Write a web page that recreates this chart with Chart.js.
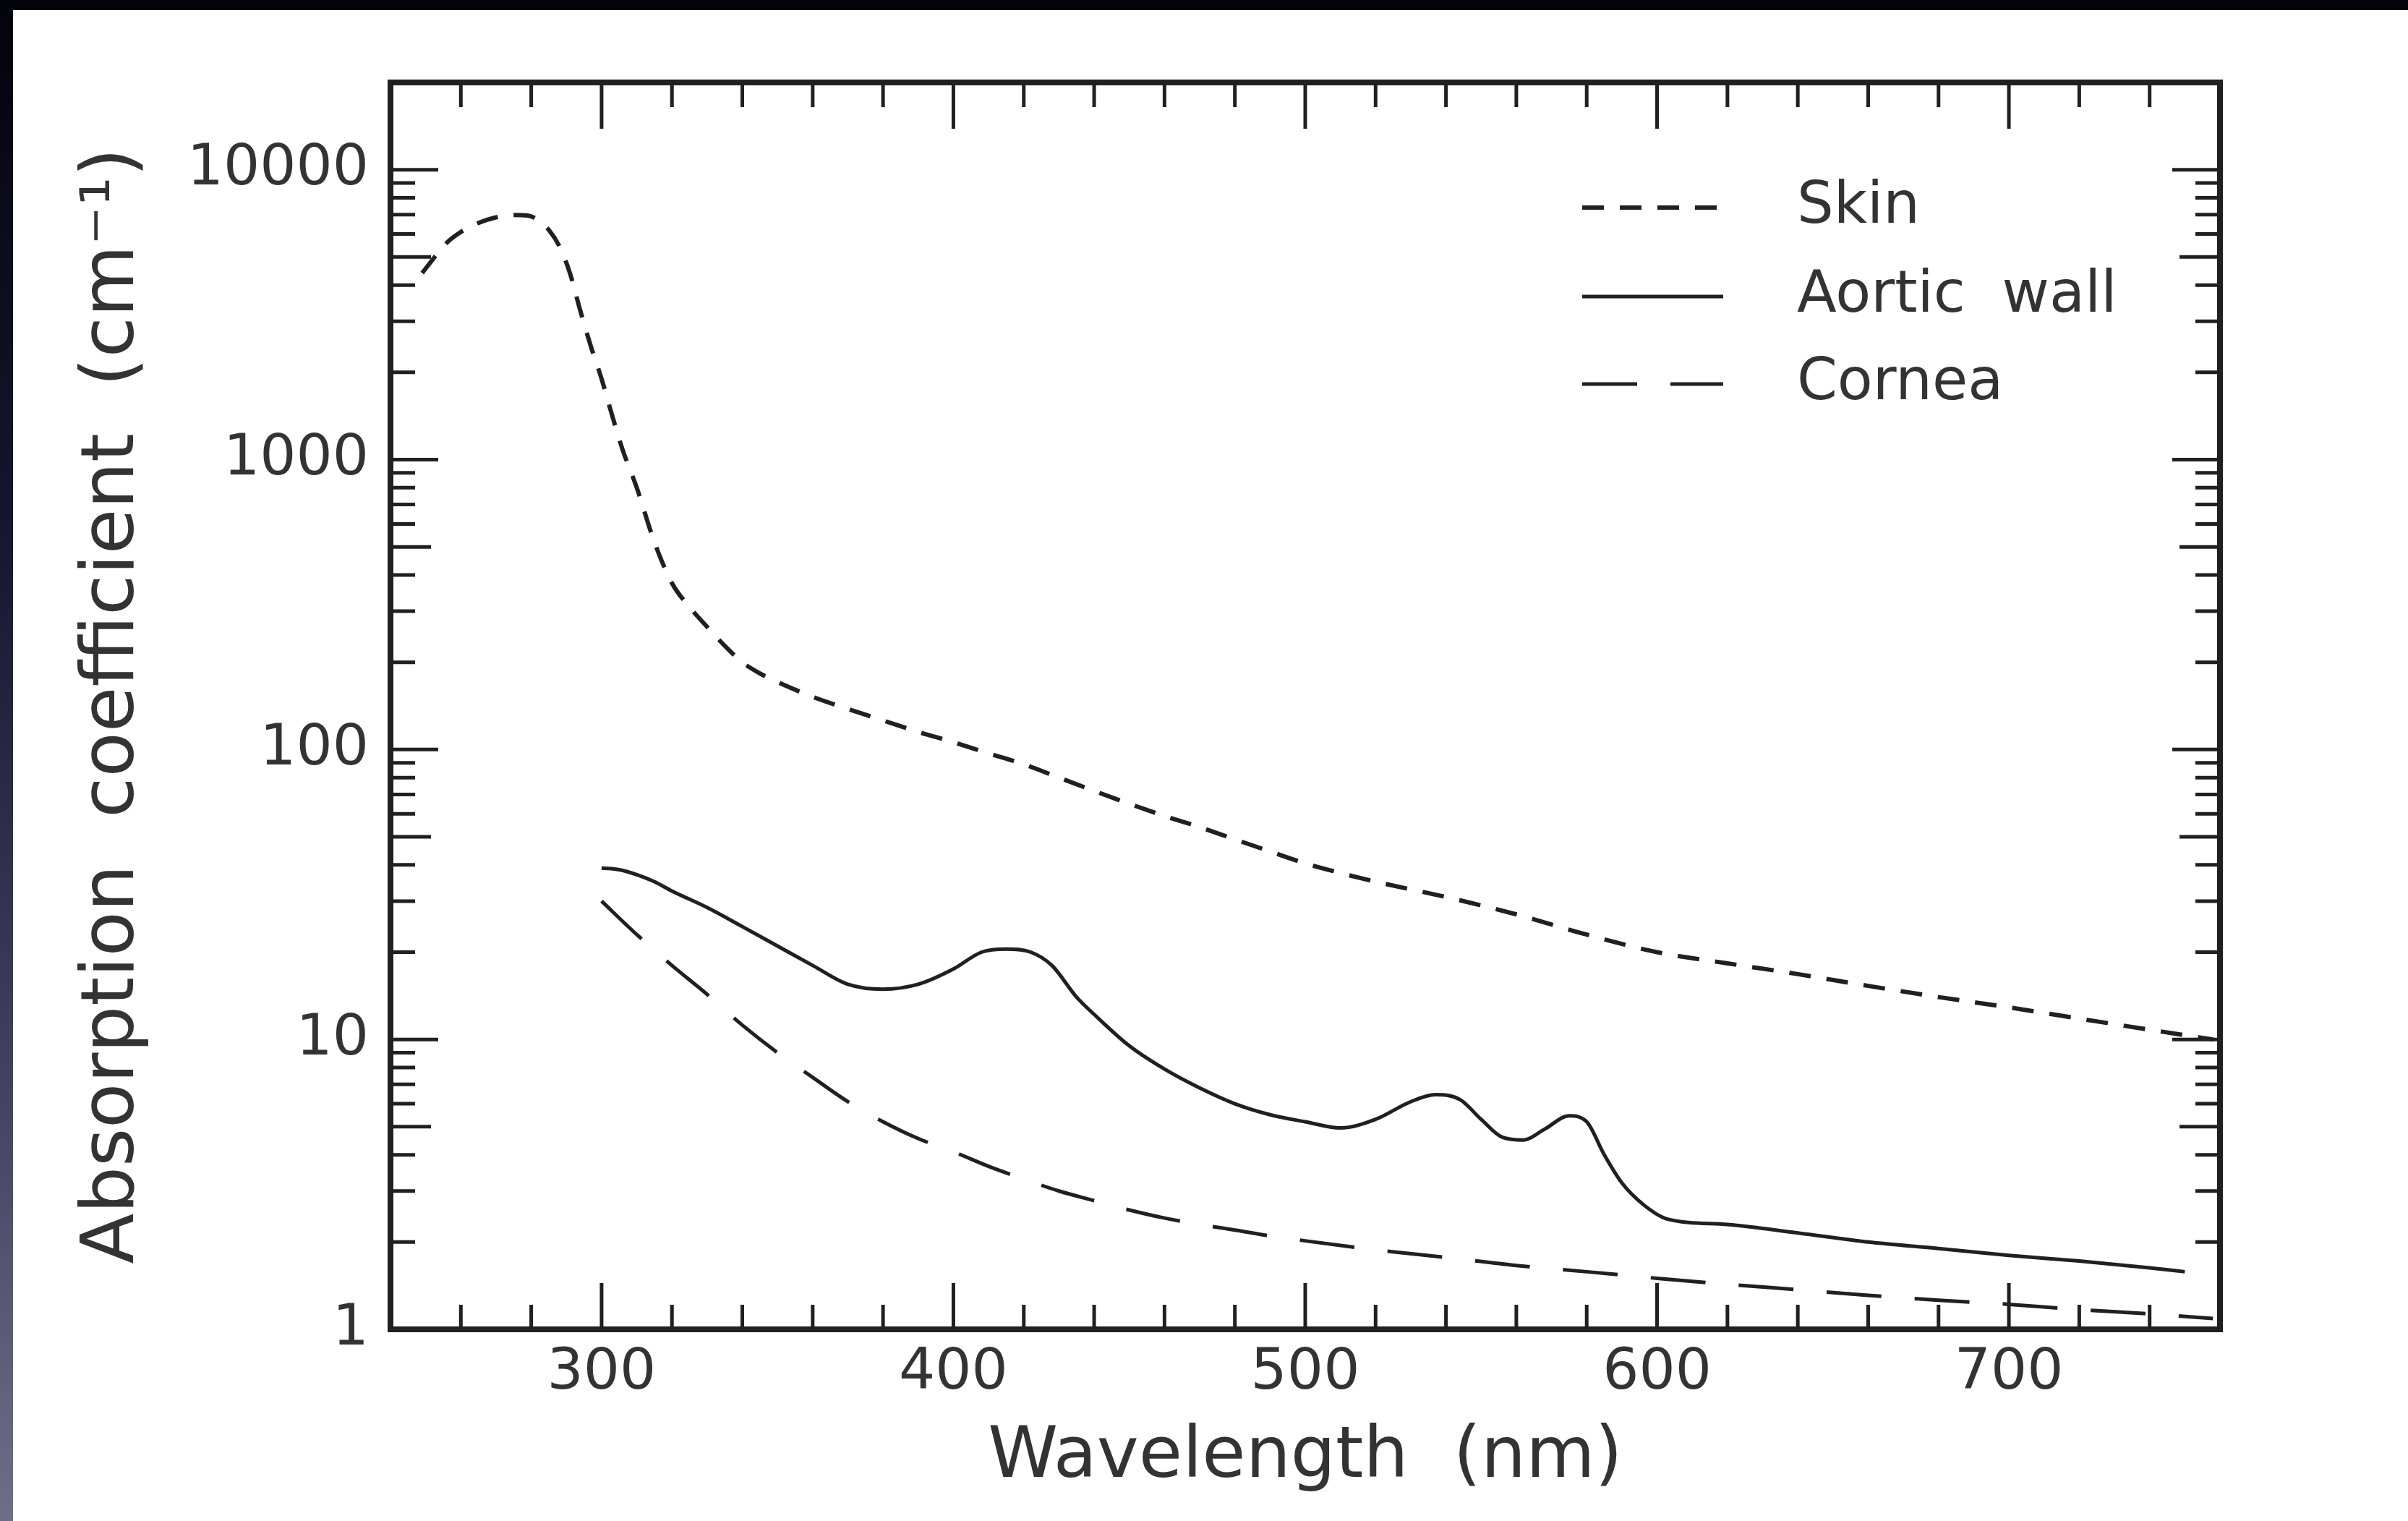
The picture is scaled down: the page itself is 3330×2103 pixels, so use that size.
<!DOCTYPE html>
<html>
<head>
<meta charset="utf-8">
<script src="https://cdn.jsdelivr.net/npm/chart.js@4.4.1/dist/chart.umd.min.js"></script>
<style>
  html, body { margin: 0; padding: 0; background: #fff; }
  #page { position: relative; width: 3330px; height: 2103px; background: #fff; overflow: hidden; }
  #topband { position: absolute; left: 0; top: 0; width: 3330px; height: 14px; background: #03030a; }
  #leftband { position: absolute; left: 0; top: 0; width: 18px; height: 2103px;
    background: linear-gradient(to bottom, #03030c 0%, #161630 35%, #40405f 70%, #6e6e88 100%); }
  #plot { position: absolute; left: 18px; top: 14px; }
</style>
</head>
<body>
<div id="page">
  <div id="topband"></div>
  <div id="leftband"></div>
  <canvas id="plot" width="3312" height="2089"></canvas>
</div>
<script>
// absorption coefficient (cm^-1) vs wavelength (nm)
var skinNm  = [249, 252, 256, 260, 265, 270, 275, 279, 282, 285, 288, 291, 294, 297, 300, 303, 306, 310, 315, 320, 325, 330, 335, 340, 345, 350,
               360, 370, 380, 390, 400, 410, 420, 430, 440, 450, 460, 470, 480, 490, 500, 510, 520, 540, 560, 580, 600, 620, 640, 660, 680, 700, 720, 740, 758];
var skinAbs = [4400, 4900, 5600, 6100, 6550, 6850, 6980, 6950, 6700, 6200, 5450, 4400, 3250, 2450, 1900, 1420, 1080, 800, 520, 375, 310, 265, 228, 200, 183, 171,
               152, 138, 126, 115, 106, 97, 89, 80, 72, 65, 59, 54, 49, 44.5, 40.5, 37.5, 35, 31, 27, 23, 20, 18.3, 16.8, 15.3, 14, 12.9, 11.8, 10.8, 10];

var aorticNm  = [300, 305, 310, 315, 320, 330, 340, 350, 360, 370, 380, 390, 400, 408, 415, 422, 428, 435, 440, 450, 460, 470, 480, 490, 500, 510,
                 520, 530, 537, 544, 550, 556, 562, 568, 575, 580, 585, 590, 596, 603, 620, 640, 660, 680, 700, 720, 740, 750];
var aorticAbs = [39, 38.5, 37, 35, 32.5, 28.5, 24.5, 21, 18, 15.5, 14.9, 15.5, 17.5, 20, 20.5, 20, 18, 14, 12.2, 9.5, 7.9, 6.8, 6.0, 5.5, 5.2, 4.95,
                 5.3, 6.1, 6.45, 6.2, 5.3, 4.6, 4.5, 4.9, 5.45, 5.2, 4.0, 3.2, 2.7, 2.4, 2.3, 2.15, 2.0, 1.9, 1.8, 1.72, 1.63, 1.58];

var corneaNm  = [300, 310, 320, 330, 340, 350, 360, 370, 380, 390, 400, 410, 420, 430, 440, 450, 460, 470, 480, 490, 500,
                 520, 540, 560, 580, 600, 620, 640, 660, 680, 700, 720, 740, 758];
var corneaAbs = [30, 23, 18, 14.3, 11.2, 9, 7.4, 6.1, 5.2, 4.55, 4.1, 3.65, 3.3, 3.0, 2.78, 2.58, 2.42, 2.3, 2.2, 2.1, 2.02,
                 1.88, 1.77, 1.66, 1.58, 1.5, 1.43, 1.37, 1.31, 1.26, 1.22, 1.17, 1.13, 1.09];

var seriesNames = ['Skin', 'Aortic  wall', 'Cornea'];
var xTickValues = [300, 400, 500, 600, 700];
var yTickValues = [1, 10, 100, 1000, 10000];

var ink = '#202020';
var textInk = '#333';
var fontFamily = "'DejaVu Sans', 'Open Sans', sans-serif";

function pairs(xs, ys) {
  return xs.map(function(x, i) { return { x: x, y: ys[i] }; });
}

function stroke(ctx, x1, y1, x2, y2) {
  ctx.beginPath();
  ctx.moveTo(x1, y1);
  ctx.lineTo(x2, y2);
  ctx.stroke();
}

// box frame plus inward ticks on all four sides
var axisFrame = {
  id: 'axisFrame',
  afterDraw: function(chart) {
    var ctx = chart.ctx, a = chart.chartArea;
    var xs = chart.scales.x, ys = chart.scales.y;
    ctx.save();
    ctx.strokeStyle = ink;
    ctx.lineCap = 'butt';
    ctx.lineWidth = 5;

    for (var v = 260; v <= 740; v += 20) {
      var px = xs.getPixelForValue(v);
      var len = v % 100 === 0 ? 64 : 34;
      stroke(ctx, px, a.bottom, px, a.bottom - len);
      stroke(ctx, px, a.top, px, a.top + len);
    }

    yTickValues.forEach(function(dec) {
      for (var m = 1; m <= 9; m++) {
        var val = dec * m;
        if (val >= ys.max) break;
        if (val === ys.min) continue;
        var py = ys.getPixelForValue(val);
        var len = m === 1 ? 66 : (m === 5 ? 56 : 34);
        stroke(ctx, a.left, py, a.left + len, py);
        stroke(ctx, a.right, py, a.right - len, py);
      }
    });

    ctx.lineWidth = 8;
    ctx.strokeRect(a.left, a.top, a.right - a.left, a.bottom - a.top);
    ctx.restore();
  }
};

// legend drawn inside the plot, line samples use each dataset's dash
var lineLegend = {
  id: 'lineLegend',
  afterDraw: function(chart) {
    var ctx = chart.ctx;
    var x0 = 2170, x1 = 2365, tx = 2467;
    var rows = [273, 396, 517];
    ctx.save();
    ctx.font = '80px ' + fontFamily;
    ctx.textBaseline = 'middle';
    chart.data.datasets.forEach(function(ds, i) {
      ctx.strokeStyle = ds.borderColor;
      ctx.lineWidth = ds.borderWidth;
      ctx.setLineDash(ds.borderDash || []);
      stroke(ctx, x0, rows[i], x1, rows[i]);
      ctx.setLineDash([]);
      ctx.fillStyle = textInk;
      ctx.fillText(ds.label, tx, rows[i]);
    });
    ctx.restore();
  }
};

var tickFont = { family: fontFamily, size: 79 };
var titleFont = { family: fontFamily, size: 98 };

new Chart(document.getElementById('plot'), {
  type: 'line',
  data: {
    datasets: [
      { label: seriesNames[0], data: pairs(skinNm, skinAbs), borderColor: ink, borderWidth: 6, borderDash: [30, 22] },
      { label: seriesNames[1], data: pairs(aorticNm, aorticAbs), borderColor: ink, borderWidth: 5 },
      { label: seriesNames[2], data: pairs(corneaNm, corneaAbs), borderColor: ink, borderWidth: 5, borderDash: [76, 46] }
    ]
  },
  options: {
    responsive: false,
    animation: false,
    devicePixelRatio: 1,
    layout: { padding: { top: 100, right: 260, left: 0, bottom: 0 } },
    elements: {
      point: { radius: 0 },
      line: { cubicInterpolationMode: 'monotone', fill: false, borderCapStyle: 'butt' }
    },
    plugins: { legend: { display: false }, tooltip: { enabled: false } },
    scales: {
      x: {
        type: 'linear', min: 240, max: 760,
        grid: { display: false, drawTicks: false },
        border: { display: false },
        afterBuildTicks: function(s) { s.ticks = xTickValues.map(function(v) { return { value: v }; }); },
        afterFit: function(s) { s.height = 265; },
        ticks: { font: tickFont, color: textInk, padding: 14, maxRotation: 0, autoSkip: false,
                 callback: function(v) { return String(v); } },
        title: { display: true, text: 'Wavelength  (nm)', font: titleFont, color: textInk, padding: { top: 0, bottom: 28 } }
      },
      y: {
        type: 'logarithmic', min: 1, max: 20000,
        grid: { display: false, drawTicks: false },
        border: { display: false },
        afterBuildTicks: function(s) { s.ticks = yTickValues.map(function(v) { return { value: v }; }); },
        afterFit: function(s) { s.width = 522; },
        ticks: { font: tickFont, color: textInk, padding: 30, autoSkip: false,
                 callback: function(v) { return String(v); } },
        title: { display: true, text: 'Absorption  coefficient  (cm\u207B\u00B9)', font: { family: fontFamily, size: 102 },
                 color: textInk, padding: { top: 78, bottom: 0 } }
      }
    }
  },
  plugins: [axisFrame, lineLegend]
});
</script>
</body>
</html>
